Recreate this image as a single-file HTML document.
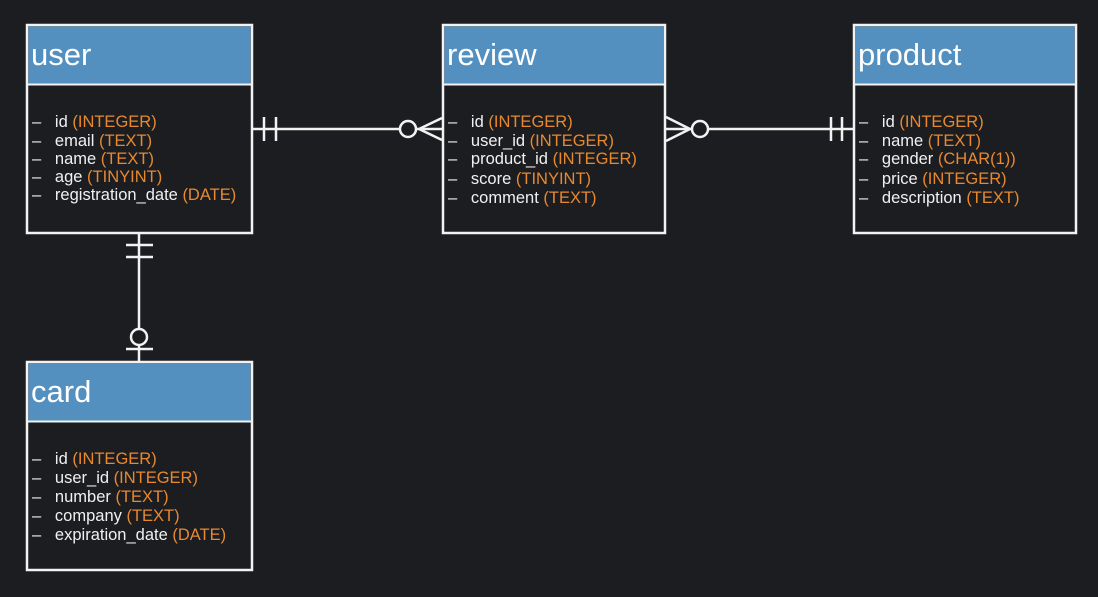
<!DOCTYPE html>
<html><head><meta charset="utf-8"><style>
html,body{margin:0;padding:0;background:#1c1d21;}
svg{display:block;}
text{font-family:"Liberation Sans","DejaVu Sans",sans-serif;}
.t{fill:#fff;font-size:31px;}
.r{fill:#f0f0f0;font-size:16.5px;}
.o{fill:#e8892f;}
</style></head><body>
<svg width="1098" height="597" viewBox="0 0 1098 597">
<rect width="1098" height="597" fill="#1c1d21"/>
<g stroke="#f2f2f2" stroke-width="2.5" fill="#1c1d21">
<rect x="27" y="25" width="225" height="208"/>
<rect x="443" y="25" width="222" height="208"/>
<rect x="854" y="25" width="222" height="208"/>
<rect x="27" y="362" width="225" height="208"/>
</g>
<g fill="#5490bf">
<rect x="28.5" y="26.5" width="222" height="57"/>
<rect x="444.5" y="26.5" width="219" height="57"/>
<rect x="855.5" y="26.5" width="219" height="57"/>
<rect x="28.5" y="363.5" width="222" height="57"/>
</g>
<g stroke="#f2f2f2" stroke-width="2">
<line x1="27" y1="84.5" x2="252" y2="84.5"/>
<line x1="443" y1="84.5" x2="665" y2="84.5"/>
<line x1="854" y1="84.5" x2="1076" y2="84.5"/>
<line x1="27" y1="421.5" x2="252" y2="421.5"/>
</g>
<text class="t" x="31" y="65">user</text>
<text class="t" x="447" y="65">review</text>
<text class="t" x="858" y="65">product</text>
<text class="t" x="31" y="402">card</text>
<g class="r">
<text x="32" y="127">–&#160;&#160;&#160;id <tspan class="o">(INTEGER)</tspan></text>
<text x="32" y="146">–&#160;&#160;&#160;email <tspan class="o">(TEXT)</tspan></text>
<text x="32" y="164">–&#160;&#160;&#160;name <tspan class="o">(TEXT)</tspan></text>
<text x="32" y="182">–&#160;&#160;&#160;age <tspan class="o">(TINYINT)</tspan></text>
<text x="32" y="200">–&#160;&#160;&#160;registration_date <tspan class="o">(DATE)</tspan></text>

<text x="448" y="127">–&#160;&#160;&#160;id <tspan class="o">(INTEGER)</tspan></text>
<text x="448" y="146">–&#160;&#160;&#160;user_id <tspan class="o">(INTEGER)</tspan></text>
<text x="448" y="164">–&#160;&#160;&#160;product_id <tspan class="o">(INTEGER)</tspan></text>
<text x="448" y="184">–&#160;&#160;&#160;score <tspan class="o">(TINYINT)</tspan></text>
<text x="448" y="203">–&#160;&#160;&#160;comment <tspan class="o">(TEXT)</tspan></text>

<text x="859" y="127">–&#160;&#160;&#160;id <tspan class="o">(INTEGER)</tspan></text>
<text x="859" y="146">–&#160;&#160;&#160;name <tspan class="o">(TEXT)</tspan></text>
<text x="859" y="164">–&#160;&#160;&#160;gender <tspan class="o">(CHAR(1))</tspan></text>
<text x="859" y="184">–&#160;&#160;&#160;price <tspan class="o">(INTEGER)</tspan></text>
<text x="859" y="203">–&#160;&#160;&#160;description <tspan class="o">(TEXT)</tspan></text>

<text x="32" y="464">–&#160;&#160;&#160;id <tspan class="o">(INTEGER)</tspan></text>
<text x="32" y="483">–&#160;&#160;&#160;user_id <tspan class="o">(INTEGER)</tspan></text>
<text x="32" y="502">–&#160;&#160;&#160;number <tspan class="o">(TEXT)</tspan></text>
<text x="32" y="521">–&#160;&#160;&#160;company <tspan class="o">(TEXT)</tspan></text>
<text x="32" y="540">–&#160;&#160;&#160;expiration_date <tspan class="o">(DATE)</tspan></text>
</g>
<g stroke="#f2f2f2" stroke-width="2.5" fill="none">
<!-- user-review -->
<line x1="253" y1="129" x2="400" y2="129"/>
<line x1="264" y1="117" x2="264" y2="141"/>
<line x1="276" y1="117" x2="276" y2="141"/>
<circle cx="408" cy="129" r="8"/>
<line x1="416" y1="129" x2="442" y2="129"/>
<line x1="419" y1="129" x2="442" y2="118"/>
<line x1="419" y1="129" x2="442" y2="140"/>
<!-- review-product -->
<line x1="708" y1="129" x2="853" y2="129"/>
<circle cx="700" cy="129" r="8"/>
<line x1="666" y1="129" x2="692" y2="129"/>
<line x1="666" y1="117" x2="690" y2="129"/>
<line x1="666" y1="141" x2="690" y2="129"/>
<line x1="831" y1="117" x2="831" y2="141"/>
<line x1="842" y1="117" x2="842" y2="141"/>
<!-- user-card -->
<line x1="139" y1="234" x2="139" y2="329"/>
<line x1="126" y1="245" x2="153" y2="245"/>
<line x1="126" y1="257" x2="153" y2="257"/>
<circle cx="139" cy="337" r="8"/>
<line x1="139" y1="345" x2="139" y2="361"/>
<line x1="126" y1="349" x2="153" y2="349"/>
</g>
</svg>
</body></html>
